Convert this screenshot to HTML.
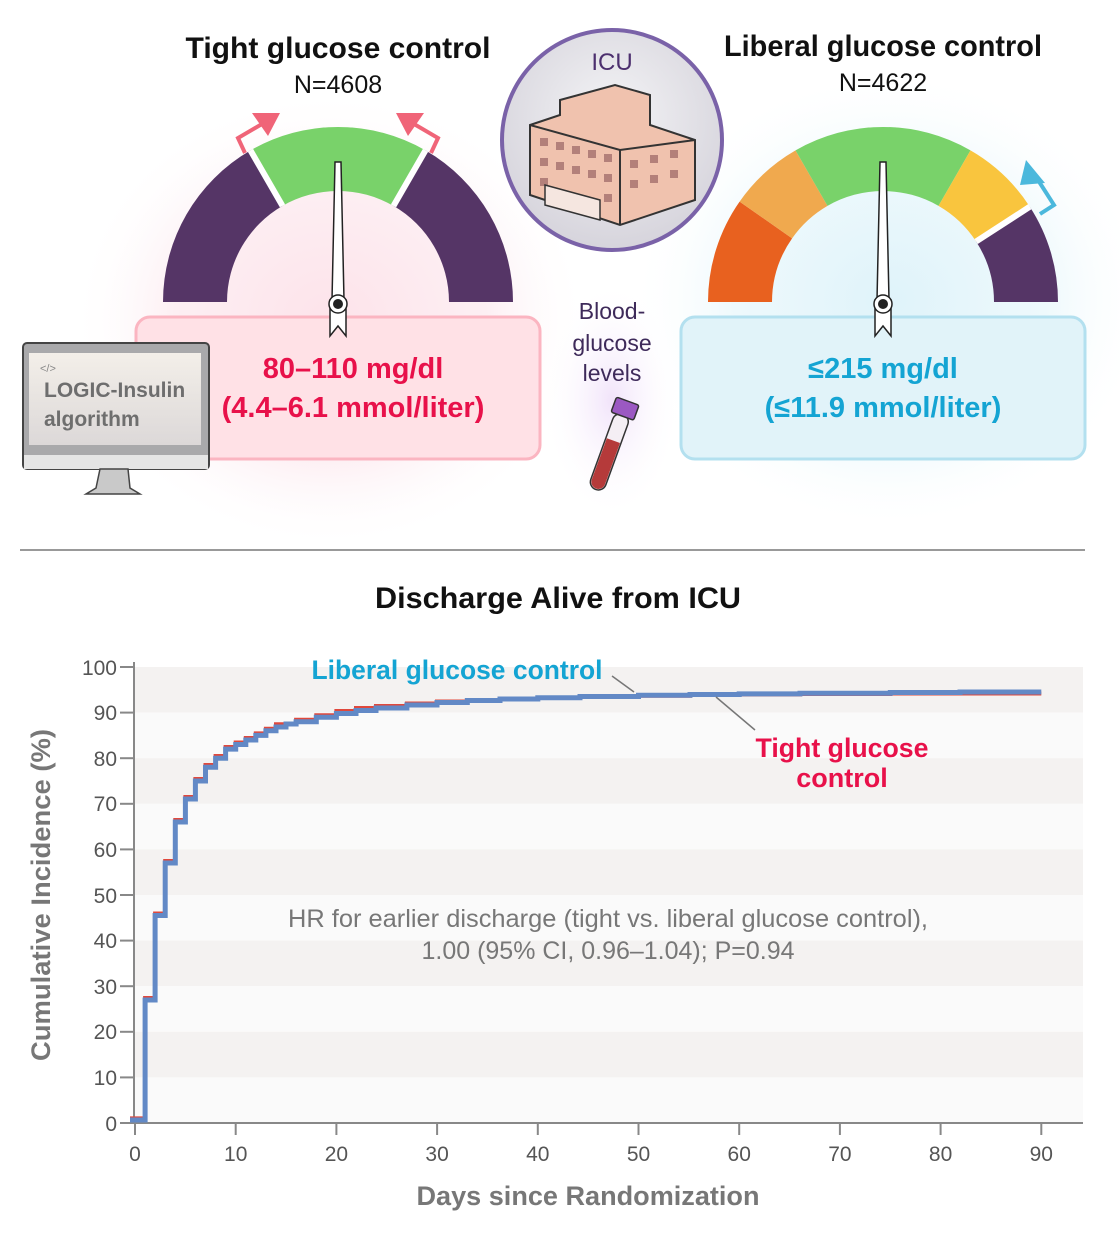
<!DOCTYPE html>
<html><head><meta charset="utf-8"><style>
html,body{margin:0;padding:0;background:#fff;}
svg{display:block;font-family:"Liberation Sans",sans-serif;}
</style></head><body>
<svg width="1120" height="1238" viewBox="0 0 1120 1238" xmlns="http://www.w3.org/2000/svg">
<defs>
<radialGradient id="pinkg" cx="0.5" cy="0.5" r="0.5"><stop offset="0" stop-color="#fde3ea"/><stop offset="0.6" stop-color="#fdeff3"/><stop offset="1" stop-color="#fff" stop-opacity="0"/></radialGradient>
<radialGradient id="blueg" cx="0.5" cy="0.5" r="0.5"><stop offset="0" stop-color="#dff3fa"/><stop offset="0.6" stop-color="#eef9fc"/><stop offset="1" stop-color="#fff" stop-opacity="0"/></radialGradient>
<radialGradient id="purg" cx="0.5" cy="0.5" r="0.5"><stop offset="0" stop-color="#f1e3fa"/><stop offset="1" stop-color="#fff" stop-opacity="0"/></radialGradient>
<radialGradient id="icug" cx="0.5" cy="0.4" r="0.6"><stop offset="0" stop-color="#f4f4f6"/><stop offset="1" stop-color="#d6d4dc"/></radialGradient>
<linearGradient id="scr" x1="0" y1="0" x2="0" y2="1"><stop offset="0" stop-color="#f3efe9"/><stop offset="1" stop-color="#dcd8d8"/></linearGradient>
</defs>

<ellipse cx="330" cy="320" rx="260" ry="230" fill="url(#pinkg)"/>
<ellipse cx="890" cy="300" rx="260" ry="230" fill="url(#blueg)"/>
<ellipse cx="612" cy="400" rx="70" ry="120" fill="url(#purg)"/>

<text x="338" y="58" text-anchor="middle" font-size="30" font-weight="bold" fill="#111" textLength="305" lengthAdjust="spacingAndGlyphs">Tight glucose control</text>
<text x="338" y="93" text-anchor="middle" font-size="25" fill="#111">N=4608</text>
<text x="883" y="56" text-anchor="middle" font-size="30" font-weight="bold" fill="#111" textLength="318" lengthAdjust="spacingAndGlyphs">Liberal glucose control</text>
<text x="883" y="91" text-anchor="middle" font-size="25" fill="#111">N=4622</text>

<g>
<path d="M163,302 A175,175 0 0 1 250.5,150.4 L282.5,205.9 A111,111 0 0 0 227,302 Z" fill="#553566"/>
<path d="M250.5,150.4 A175,175 0 0 1 425.5,150.4 L393.5,205.9 A111,111 0 0 0 282.5,205.9 Z" fill="#79d26a"/>
<path d="M425.5,150.4 A175,175 0 0 1 513,302 L449,302 A111,111 0 0 0 393.5,205.9 Z" fill="#553566"/>
<line x1="250.5" y1="150.4" x2="282.5" y2="205.9" stroke="#fff" stroke-width="6"/>
<line x1="425.5" y1="150.4" x2="393.5" y2="205.9" stroke="#fff" stroke-width="6"/>
<path d="M245,153 L238,138 L262,124" fill="none" stroke="#f06478" stroke-width="4"/>
<path d="M252,113 L280,113 L268,136 Z" fill="#f06478"/>
<path d="M431,153 L438,138 L414,124" fill="none" stroke="#f06478" stroke-width="4"/>
<path d="M424,113 L396,113 L408,136 Z" fill="#f06478"/>
</g>
<g>
<path d="M708,302 A175,175 0 0 1 739.6,201.6 L792.1,238.4 A111,111 0 0 0 772,302 Z" fill="#e8611f"/>
<path d="M739.6,201.6 A175,175 0 0 1 795.5,150.4 L827.5,205.9 A111,111 0 0 0 792.1,238.4 Z" fill="#f0a94e"/>
<path d="M795.5,150.4 A175,175 0 0 1 970.5,150.4 L938.5,205.9 A111,111 0 0 0 827.5,205.9 Z" fill="#79d26a"/>
<path d="M970.5,150.4 A175,175 0 0 1 1029.8,206.7 L976.1,241.5 A111,111 0 0 0 938.5,205.9 Z" fill="#f9c53e"/>
<path d="M1029.8,206.7 A175,175 0 0 1 1058,302 L994,302 A111,111 0 0 0 976.1,241.5 Z" fill="#553566"/>
<line x1="1029.8" y1="206.7" x2="976.1" y2="241.5" stroke="#fff" stroke-width="6"/>
<path d="M1040,214 L1054,205 L1038,180" fill="none" stroke="#4bb8dc" stroke-width="4"/>
<path d="M1026,160 L1045,183 L1020,185 Z" fill="#4bb8dc"/>
</g>

<rect x="136" y="317" width="404" height="142" rx="14" fill="#ffe1e6" stroke="#fbb5c1" stroke-width="3"/>
<rect x="681" y="317" width="404" height="142" rx="14" fill="#e1f3f9" stroke="#b3e0ef" stroke-width="3"/>
<text x="353" y="378" text-anchor="middle" font-size="29" font-weight="bold" fill="#e8114a">80–110 mg/dl</text>
<text x="353" y="417" text-anchor="middle" font-size="29" font-weight="bold" fill="#e8114a">(4.4–6.1 mmol/liter)</text>
<text x="883" y="378" text-anchor="middle" font-size="29" font-weight="bold" fill="#14a4d3">≤215 mg/dl</text>
<text x="883" y="417" text-anchor="middle" font-size="29" font-weight="bold" fill="#14a4d3">(≤11.9 mmol/liter)</text>

<path d="M335,162 L341,162 L344,300 L332,300 Z" fill="#fff" stroke="#222" stroke-width="1.5"/>
<path d="M330,300 L346,300 L346,336 L338,326 L330,336 Z" fill="#fff" stroke="#222" stroke-width="1.5"/>
<circle cx="338" cy="304" r="9" fill="#fff" stroke="#222" stroke-width="1.5"/><circle cx="338" cy="304" r="5" fill="#222"/>
<path d="M880,162 L886,162 L889,300 L877,300 Z" fill="#fff" stroke="#222" stroke-width="1.5"/>
<path d="M875,300 L891,300 L891,336 L883,326 L875,336 Z" fill="#fff" stroke="#222" stroke-width="1.5"/>
<circle cx="883" cy="304" r="9" fill="#fff" stroke="#222" stroke-width="1.5"/><circle cx="883" cy="304" r="5" fill="#222"/>

<rect x="23" y="343" width="186" height="126" rx="4" fill="#a9a9ab" stroke="#444" stroke-width="2"/>
<rect x="29" y="353" width="172" height="92" fill="url(#scr)"/>
<rect x="24" y="455" width="184" height="14" fill="#e5e5e5"/>
<path d="M100,469 L128,469 L130,488 L140,494 L86,494 L96,488 Z" fill="#c9c9c9" stroke="#444" stroke-width="1.5"/>
<text x="40" y="372" font-size="11" fill="#888">&lt;/&gt;</text>
<text x="44" y="397" font-size="21" fill="#6e6e6e" font-weight="bold">LOGIC-Insulin</text>
<text x="44" y="426" font-size="21" fill="#6e6e6e" font-weight="bold">algorithm</text>

<circle cx="612" cy="140" r="110" fill="url(#icug)" stroke="#7a62a8" stroke-width="4"/>
<text x="612" y="70" text-anchor="middle" font-size="24" fill="#4c2f6e">ICU</text>
<path d="M560,100 L615,85 L650,95 L650,125 L695,140 L695,200 L620,225 L530,195 L530,125 L560,115 Z" fill="#f0c2ae" stroke="#333" stroke-width="2"/>
<path d="M530,125 L620,150 L695,140" fill="none" stroke="#333" stroke-width="2"/>
<path d="M620,150 L620,225" stroke="#333" stroke-width="2"/>
<g fill="#b3807a">
<rect x="540" y="138" width="8" height="8"/><rect x="556" y="142" width="8" height="8"/><rect x="572" y="146" width="8" height="8"/><rect x="588" y="150" width="8" height="8"/><rect x="604" y="154" width="8" height="8"/>
<rect x="540" y="158" width="8" height="8"/><rect x="556" y="162" width="8" height="8"/><rect x="572" y="166" width="8" height="8"/><rect x="588" y="170" width="8" height="8"/><rect x="604" y="174" width="8" height="8"/>
<rect x="540" y="178" width="8" height="8"/><rect x="604" y="194" width="8" height="8"/>
<rect x="630" y="160" width="8" height="8"/><rect x="650" y="155" width="8" height="8"/><rect x="670" y="150" width="8" height="8"/>
<rect x="630" y="180" width="8" height="8"/><rect x="650" y="175" width="8" height="8"/><rect x="670" y="170" width="8" height="8"/>
</g>
<path d="M545,185 L600,200 L600,220 L545,205 Z" fill="#f5e6e0" stroke="#333" stroke-width="1.5"/>

<text x="612" y="319" text-anchor="middle" font-size="23" fill="#3e2a5a">Blood-</text>
<text x="612" y="351" text-anchor="middle" font-size="23" fill="#3e2a5a">glucose</text>
<text x="612" y="381" text-anchor="middle" font-size="23" fill="#3e2a5a">levels</text>
<g transform="rotate(20 610 450)">
<rect x="602" y="412" width="16" height="80" rx="8" fill="#f4eef4" stroke="#333" stroke-width="1.5"/>
<path d="M603,440 L617,440 L617,484 A7,7 0 0 1 603,484 Z" fill="#b53a3a"/>
<rect x="598" y="398" width="24" height="16" rx="2" fill="#9b59c2" stroke="#333" stroke-width="1.5"/>
</g>

<line x1="20" y1="550" x2="1085" y2="550" stroke="#999" stroke-width="2"/>
<text x="558" y="608" text-anchor="middle" font-size="30" font-weight="bold" fill="#111" textLength="366" lengthAdjust="spacingAndGlyphs">Discharge Alive from ICU</text>

<g>
<rect x="135" y="667" width="948" height="45.6" fill="#f4f2f1"/>
<rect x="135" y="712.6" width="948" height="45.6" fill="#fafafa"/>
<rect x="135" y="758.2" width="948" height="45.6" fill="#f4f2f1"/>
<rect x="135" y="803.8" width="948" height="45.6" fill="#fafafa"/>
<rect x="135" y="849.4" width="948" height="45.6" fill="#f4f2f1"/>
<rect x="135" y="895" width="948" height="45.6" fill="#fafafa"/>
<rect x="135" y="940.6" width="948" height="45.6" fill="#f4f2f1"/>
<rect x="135" y="986.2" width="948" height="45.6" fill="#fafafa"/>
<rect x="135" y="1031.8" width="948" height="45.6" fill="#f4f2f1"/>
<rect x="135" y="1077.4" width="948" height="45.6" fill="#fafafa"/>
</g>
<g stroke="#888" stroke-width="2">
<line x1="134" y1="662" x2="134" y2="1124"/>
<line x1="133" y1="1123" x2="1083" y2="1123"/>
<line x1="120" y1="667" x2="134" y2="667"/><line x1="120" y1="712.6" x2="134" y2="712.6"/><line x1="120" y1="758.2" x2="134" y2="758.2"/><line x1="120" y1="803.8" x2="134" y2="803.8"/><line x1="120" y1="849.4" x2="134" y2="849.4"/><line x1="120" y1="895" x2="134" y2="895"/><line x1="120" y1="940.6" x2="134" y2="940.6"/><line x1="120" y1="986.2" x2="134" y2="986.2"/><line x1="120" y1="1031.8" x2="134" y2="1031.8"/><line x1="120" y1="1077.4" x2="134" y2="1077.4"/><line x1="120" y1="1123" x2="134" y2="1123"/>
<line x1="135" y1="1123" x2="135" y2="1135"/><line x1="235.7" y1="1123" x2="235.7" y2="1135"/><line x1="336.4" y1="1123" x2="336.4" y2="1135"/><line x1="437.1" y1="1123" x2="437.1" y2="1135"/><line x1="537.8" y1="1123" x2="537.8" y2="1135"/><line x1="638.5" y1="1123" x2="638.5" y2="1135"/><line x1="739.2" y1="1123" x2="739.2" y2="1135"/><line x1="839.9" y1="1123" x2="839.9" y2="1135"/><line x1="940.6" y1="1123" x2="940.6" y2="1135"/><line x1="1041.3" y1="1123" x2="1041.3" y2="1135"/>
</g>
<g font-size="21" fill="#555" text-anchor="end">
<text x="117" y="675">100</text><text x="117" y="720">90</text><text x="117" y="766">80</text><text x="117" y="811">70</text><text x="117" y="857">60</text><text x="117" y="903">50</text><text x="117" y="948">40</text><text x="117" y="994">30</text><text x="117" y="1039">20</text><text x="117" y="1085">10</text><text x="117" y="1131">0</text>
</g>
<g font-size="21" fill="#555" text-anchor="middle">
<text x="135" y="1161">0</text><text x="235.7" y="1161">10</text><text x="336.4" y="1161">20</text><text x="437.1" y="1161">30</text><text x="537.8" y="1161">40</text><text x="638.5" y="1161">50</text><text x="739.2" y="1161">60</text><text x="839.9" y="1161">70</text><text x="940.6" y="1161">80</text><text x="1041.3" y="1161">90</text>
</g>
<text x="588" y="1205" text-anchor="middle" font-size="27" font-weight="bold" fill="#777" textLength="343" lengthAdjust="spacingAndGlyphs">Days since Randomization</text>
<text transform="translate(50 895) rotate(-90)" text-anchor="middle" font-size="27" font-weight="bold" fill="#777" textLength="332" lengthAdjust="spacingAndGlyphs">Cumulative Incidence (%)</text>

<path d="M130,1118.4 H145.1 V998 H155.1 V913.5 H165.2 V861 H175.3 V820 H185.4 V797 H195.4 V779 H205.5 V765 H215.6 V756 H225.6 V747 H235.7 V742.5 H245.8 V738 H255.8 V733.4 H265.9 V728.8 H276 V724.3 H296.1 V719.7 H316.3 V715.2 H336.4 V711 H356 V708 H376 V706 H406.9 V703.5 H437 V701.5 H467.3 V700 H500 V698.5 H537.8 V697.5 H580 V696.5 H638.5 V695.8 H690 V695 H739.2 V694.5 H800 V694 H890.3 V693.5 H1041.3" fill="none" stroke="#e0483c" stroke-width="4"/>
<path d="M130,1120 H145.1 V1000 H155.1 V915.5 H165.2 V863 H175.3 V822 H185.4 V799 H195.4 V781 H205.5 V767.3 H215.6 V758.2 H225.6 V749.1 H235.7 V744.5 H245.8 V740 H255.8 V735.4 H265.9 V730.8 H276 V727 H286 V724 H296.1 V721.7 H316.3 V717.2 H336.4 V713.5 H356 V710.5 H376 V708 H406.9 V705 H437 V702.5 H467.3 V700.5 H500 V699 H537.8 V697.8 H580 V696.5 H638.5 V695.3 H690 V694.5 H739.2 V693.9 H800 V693.2 H890.3 V692.5 H960 V692 H1041.3" fill="none" stroke="#6289c6" stroke-width="5"/>

<text x="457" y="679" text-anchor="middle" font-size="27" font-weight="bold" fill="#14a4d3" textLength="291" lengthAdjust="spacingAndGlyphs">Liberal glucose control</text>
<line x1="612" y1="676" x2="634" y2="692" stroke="#777" stroke-width="1.5"/>
<line x1="716" y1="697" x2="755" y2="730" stroke="#777" stroke-width="1.5"/>
<text x="842" y="757" text-anchor="middle" font-size="27" font-weight="bold" fill="#e8114a" textLength="173" lengthAdjust="spacingAndGlyphs">Tight glucose</text>
<text x="842" y="787" text-anchor="middle" font-size="27" font-weight="bold" fill="#e8114a">control</text>
<text x="608" y="927" text-anchor="middle" font-size="25" fill="#777" textLength="640" lengthAdjust="spacingAndGlyphs">HR for earlier discharge (tight vs. liberal glucose control),</text>
<text x="608" y="959" text-anchor="middle" font-size="25" fill="#777" textLength="373" lengthAdjust="spacingAndGlyphs">1.00 (95% CI, 0.96–1.04); P=0.94</text>
</svg>
</body></html>
